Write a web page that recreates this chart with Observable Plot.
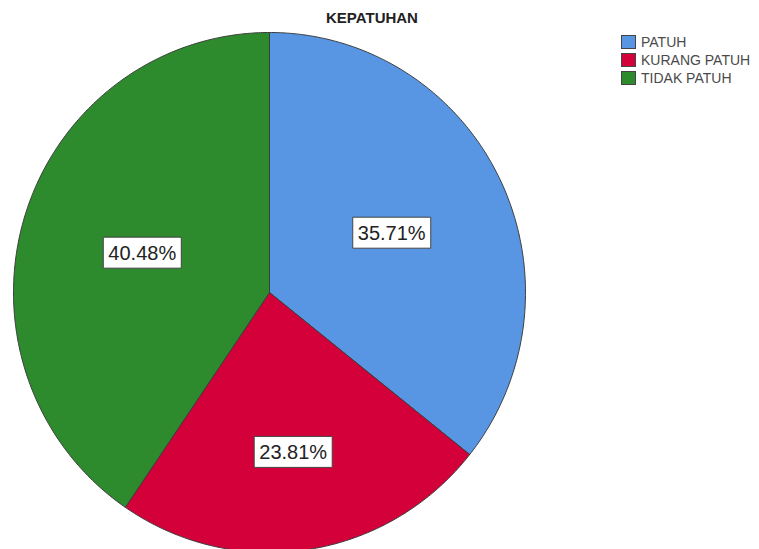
<!DOCTYPE html>
<html>
<head>
<meta charset="utf-8">
<script src="https://cdn.jsdelivr.net/npm/d3@7"></script>
<script src="https://cdn.jsdelivr.net/npm/@observablehq/plot@0.6"></script>
<style>
  html, body { margin: 0; padding: 0; background: #fff; overflow: hidden; }
  #wrap { position: relative; width: 759px; height: 549px; font-family: "Liberation Sans", Arial, sans-serif; }
  #title { position: absolute; top: 9px; left: 0; width: 744px; text-align: center; font-weight: bold; font-size: 15px; color: #222; }
  #legend { position: absolute; left: 621px; top: 33px; }
  .item { display: flex; align-items: center; height: 18px; font-size: 14px; color: #4a4a4a; }
  .sw { width: 15px; height: 14px; box-sizing: border-box; border: 1px solid #444; margin-right: 5px; }
</style>
</head>
<body>
<div id="wrap">
  <div id="chart"></div>
  <div id="title">KEPATUHAN</div>
  <div id="legend"></div>
</div>
<script>
const categories = ["PATUH", "KURANG PATUH", "TIDAK PATUH"];
const percents = [35.71, 23.81, 40.48];
const colors = ["#5896e3", "#d4003a", "#2d8b2d"];
const labelRadius = [0.53, 0.62, 0.52];

const arcs = d3.pie().sort(null).value(d => d)(percents);

// slice outlines (unit circle coordinates), built from the pie angles
const slicePts = [];
arcs.forEach((a, i) => {
  const cat = categories[i];
  slicePts.push({cat, x: 0, y: 0});
  const n = Math.max(2, Math.ceil((a.endAngle - a.startAngle) / (Math.PI / 360)));
  for (let k = 0; k <= n; k++) {
    const t = a.startAngle + (a.endAngle - a.startAngle) * k / n;
    slicePts.push({cat, x: Math.sin(t), y: Math.cos(t)});
  }
  slicePts.push({cat, x: 0, y: 0});
});

const labels = arcs.map((a, i) => {
  const m = (a.startAngle + a.endAngle) / 2;
  return {cat: categories[i], text: percents[i].toFixed(2) + "%", x: labelRadius[i] * Math.sin(m), y: labelRadius[i] * Math.cos(m)};
});

const boxSymbol = { draw(ctx) { ctx.rect(-39, -15.5, 78, 31); } };

const chart = Plot.plot({
  width: 759,
  height: 549,
  margin: 0,
  style: { background: "transparent", overflow: "hidden", fontFamily: "Liberation Sans, Arial, sans-serif" },
  x: { domain: [-1, 1], range: [13, 525], axis: null },
  y: { domain: [-1, 1], range: [552, 32], axis: null },
  color: { domain: categories, range: colors },
  marks: [
    Plot.line(slicePts, { x: "x", y: "y", z: "cat", fill: "cat", stroke: "#3c3c3c", strokeWidth: 1, strokeLinejoin: "round", curve: "linear" }),
    Plot.dot(labels, { x: "x", y: "y", symbol: boxSymbol, fill: "white", stroke: "#444", strokeWidth: 1 }),
    Plot.text(labels, { x: "x", y: "y", text: "text", fontSize: 20, fill: "#222", dy: 1 })
  ]
});
document.getElementById("chart").appendChild(chart);

const leg = document.getElementById("legend");
categories.forEach((c, i) => {
  const it = document.createElement("div");
  it.className = "item";
  const sw = document.createElement("div");
  sw.className = "sw";
  sw.style.background = colors[i];
  const tx = document.createElement("span");
  tx.textContent = c;
  it.appendChild(sw);
  it.appendChild(tx);
  leg.appendChild(it);
});
</script>
</body>
</html>
